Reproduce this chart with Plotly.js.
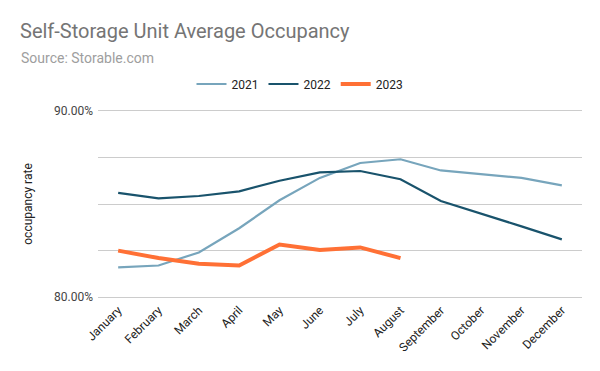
<!DOCTYPE html>
<html>
<head>
<meta charset="utf-8">
<script src="https://cdn.plot.ly/plotly-3.0.1.min.js"></script>
<style>html,body{margin:0;padding:0;background:#fff;}#chart{width:600px;height:371px;}</style>
</head>
<body>
<div id="chart"></div>
<script>
const months = ["January","February","March","April","May","June","July","August","September","October","November","December"];
const occ2021 = [81.6, 81.7, 82.4, 83.7, 85.2, 86.4, 87.2, 87.4, 86.8, 86.6, 86.4, 86.0];
const occ2022 = [85.6, 85.3, 85.43, 85.68, 86.25, 86.7, 86.77, 86.33, 85.16, 84.5, 83.8, 83.1];
const occ2023 = [82.5, 82.1, 81.8, 81.7, 82.83, 82.53, 82.67, 82.1];
const yTickVals = [80, 82.5, 85, 87.5, 90];
const yTickText = ["80.00%", "", "", "", "90.00%"];

const traces = [
  {x: months, y: occ2021, name: "2021", type: "scatter", mode: "lines",
   line: {color: "#77a5bc", width: 2.2}},
  {x: months, y: occ2022, name: "2022", type: "scatter", mode: "lines",
   line: {color: "#19536c", width: 2.2}},
  {x: months.slice(0, occ2023.length), y: occ2023, name: "2023", type: "scatter", mode: "lines",
   line: {color: "#ff7035", width: 4}}
];

// range padded slightly so the 80% and 90% grid lines are drawn
const pad = 0.15;
const pxPerUnit = 18.6;
const mT = 111 - pad * pxPerUnit, mB = 74 - pad * pxPerUnit;
const plotH = 371 - mT - mB;
const layout = {
  width: 600, height: 371,
  margin: {l: 98, r: 18, t: mT, b: mB},
  paper_bgcolor: "#fff", plot_bgcolor: "#fff",
  font: {family: "Roboto, Arial, sans-serif", color: "#222"},
  title: {
    text: "Self-Storage Unit Average Occupancy",
    font: {size: 20, color: "#757575", family: "Roboto, Arial, sans-serif"},
    x: 20/600, xanchor: "left", xref: "container",
    y: 1 - 31/371, yanchor: "middle", yref: "container"
  },
  annotations: [{
    text: "Source: Storable.com", showarrow: false,
    xref: "paper", yref: "paper", xanchor: "left", yanchor: "middle",
    x: (19 - 98) / 484, y: (371 - mB - 58) / plotH,
    font: {size: 14, color: "#9e9e9e", family: "Roboto, Arial, sans-serif"}
  }],
  showlegend: true,
  legend: {
    orientation: "h", x: 0.5, xanchor: "center", xref: "container",
    y: 1 - 84/371, yanchor: "middle", yref: "container",
    font: {size: 12, color: "#222"}, traceorder: "normal"
  },
  xaxis: {
    type: "category", tickangle: -45, tickfont: {size: 12, color: "#222"},
    showgrid: false, zeroline: false, showline: false, ticks: "",
    range: [-0.5, 11.5]
  },
  yaxis: {
    range: [80 - pad, 90 + pad], tickvals: yTickVals, ticktext: yTickText,
    tickfont: {size: 12, color: "#444"}, ticklabelstandoff: 4,
    gridcolor: "#cccccc", gridwidth: 1, zeroline: false, showline: false, ticks: "",
    title: {text: "occupancy rate", font: {size: 12, color: "#222"}, standoff: 18}
  }
};

Plotly.newPlot("chart", traces, layout, {displayModeBar: false, staticPlot: true});
</script>
</body>
</html>
